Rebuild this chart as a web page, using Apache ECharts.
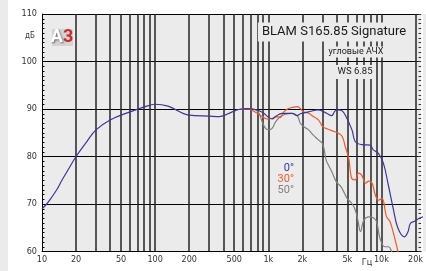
<!DOCTYPE html>
<html><head><meta charset="utf-8">
<script src="https://cdn.jsdelivr.net/npm/echarts@6/dist/echarts.min.js"></script>
<style>html,body{margin:0;padding:0;background:#fff}#c{width:426px;height:271px}</style>
</head><body><div id="c"></div>
<script>
// Grid / label values
const xGridValues = [20,30,40,50,60,70,80,90,100,200,300,400,500,600,700,800,900,1000,2000,3000,4000,5000,6000,7000,8000,9000,10000,20000];
const xLabelValues = [10,20,50,100,200,500,1000,2000,5000,10000,20000];
const yMin = 60, yMax = 110, yStep = 10;

// 0 degrees
const blueF  = [10,11,12,13.5,15,17,20,25,30,40,60,78,100,130,200,300,370,480,550,650,770,900,1000,1080,1160,1320,1620,1800,1920,2270,2770,3280,3630,3900,4200,4450,4800,5490,5880,6700,7940,8470,9370,10400,11500,12700,14000,16000,17200,18000,19800,21600,23600];
const blueDb = [69.0,70.0,71.2,73.0,75.0,77.2,80.0,83.2,85.6,87.7,89.4,90.35,91.0,90.6,88.7,88.5,88.4,89.4,89.9,90.1,89.9,89.2,88.3,87.9,88.4,89.1,89.1,88.6,89.0,89.4,89.8,89.1,88.6,89.6,89.8,89.7,88.7,85.6,83.1,82.5,82.4,81.4,80.7,78.6,74.0,69.1,64.9,63.1,64.2,65.9,66.4,67.0,67.3];
// 30 degrees
const orangeF  = [550,650,798,883,979,1080,1194,1278,1370,1513,1620,1800,1920,2050,2270,2500,2770,3030,3330,3890,4170,4500,4800,5150,5300,5490,5880,6250,6690,7240,7740,8260,8830,9440,10100,11100,11900,13100,14000,15000];
const orangeDb = [89.9,90.1,89.1,88.4,87.9,88.0,88.4,88.2,89.4,90.1,90.3,90.5,90.1,89.4,89.1,88.4,87.7,86.3,85.8,85.2,84.9,84.2,82.0,79.5,77.0,75.3,75.1,76.5,76.1,74.4,74.8,74.4,71.9,70.8,71.2,67.3,66.3,62.8,60.0,57.0];
// 50 degrees
const grayF  = [550,700,773,828,883,946,1010,1080,1160,1280,1420,1620,1800,1920,2050,2270,2500,2770,3030,3240,3430,3640,4010,4400,4970,5480,5880,6200,6530,6990,7730,8470,9060,9700,10700,11500,12300,13000];
const grayDb = [89.9,90.0,89.8,89.1,87.3,85.9,85.6,85.9,87.3,88.4,88.9,89.1,88.6,87.0,86.3,85.6,84.5,83.5,82.6,79.3,78.0,76.8,74.6,73.6,71.2,70.1,68.7,66.5,64.2,66.6,67.3,67.1,66.3,62.8,61.0,61.0,60.0,58.0];

const legendLabels = ['0°','30°','50°'];
const colors = ['#3a3796','#f05a28','#808080'];

const zip = (a,b) => a.map((v,i)=>[v,b[i]]);
const fmtHz = v => v >= 1000 ? (v/1000)+'k' : String(v);
const numFont = "'Liberation Sans Narrow','DejaVu Sans Condensed',sans-serif";
const BG = '#ebebeb';

const chart = echarts.init(document.getElementById('c'), null, {renderer:'canvas'});
chart.setOption({
  animation:false,
  backgroundColor:'#fff',
  grid:{left:42, top:14, right:3, bottom:19.5, show:true, backgroundColor:BG, borderWidth:0},
  xAxis:{
    type:'log', logBase:10, min:10, max:22400,
    axisLine:{show:true, onZero:false, lineStyle:{color:'#000', width:1}},
    axisTick:{show:false, customValues:xGridValues},
    axisLabel:{customValues:xLabelValues, formatter:fmtHz, fontSize:9, color:'#333', margin:4, fontFamily:numFont},
    splitLine:{show:true, lineStyle:{color:'#252525', width:1.5}},
    minorTick:{show:false}, minorSplitLine:{show:false}
  },
  yAxis:[{
    type:'value', min:yMin, max:yMax, interval:yStep,
    axisLine:{show:true, lineStyle:{color:'#000', width:1}},
    axisTick:{show:true, inside:true, length:3, lineStyle:{color:'#000'}},
    minorTick:{show:true, splitNumber:10, length:2.5, lineStyle:{color:'#000'}},
    axisLabel:{fontSize:9, color:'#333', margin:5, fontFamily:numFont},
    splitLine:{show:true, lineStyle:{color:'#000', width:1}}
  },{
    type:'value', position:'right', min:yMin, max:yMax, interval:yStep,
    axisLine:{show:false},
    axisTick:{show:true, inside:true, length:3, lineStyle:{color:'#333'}},
    minorTick:{show:true, splitNumber:10, length:2.5, lineStyle:{color:'#333'}},
    axisLabel:{show:false}, splitLine:{show:false}
  }],
  series:[
    {type:'line', data:zip(grayF,grayDb), showSymbol:false, smooth:0.4, clip:true, lineStyle:{color:colors[2], width:1.2}, z:3},
    {type:'line', data:zip(orangeF,orangeDb), showSymbol:false, smooth:0.4, clip:true, lineStyle:{color:colors[1], width:1.2}, z:4},
    {type:'line', data:zip(blueF,blueDb), showSymbol:false, smooth:0.4, clip:true, lineStyle:{color:colors[0], width:1.2}, z:5}
  ],
  graphic:[
    {type:'rect', left:0, top:0, shape:{width:8, height:271}, style:{fill:BG}, silent:true},
    {type:'rect', left:423, top:14, shape:{width:3, height:237.5}, style:{fill:BG}, silent:true},
    {type:'text', x:35, y:36, style:{text:'дБ', fontSize:8, fill:'#333', align:'right', verticalAlign:'middle', fontFamily:numFont}, z:10},
    {type:'text', x:367, y:263, style:{text:'Гц', fontSize:9, fill:'#333', align:'center', verticalAlign:'middle', fontFamily:numFont}, z:10},
    {type:'text', x:334, y:32, style:{text:'BLAM S165.85 Signature', fontSize:13, fill:'#1a1a1a', align:'center', verticalAlign:'middle', fontFamily:'Roboto', backgroundColor:BG, padding:[3,4]}, z:10},
    {type:'text', x:356, y:52, style:{text:'угловые АЧХ', fontSize:9, fill:'#1a1a1a', align:'center', verticalAlign:'middle', fontFamily:'Roboto', backgroundColor:BG, padding:[1,2]}, z:10},
    {type:'text', x:355, y:72, style:{text:'WS 6.85', fontSize:9.5, fill:'#1a1a1a', align:'center', verticalAlign:'middle', fontFamily:'Roboto', backgroundColor:BG, padding:[2,2]}, z:10},
    {type:'rect', left:52, top:29, shape:{width:21, height:17}, style:{fill:'#d4d4d4'}, z:10},
    {type:'text', x:62, y:37, style:{text:'{a|А}{b|3}', align:'center', verticalAlign:'middle', rich:{
      a:{fontSize:18, fontWeight:'bold', fill:'#fff', fontFamily:'Roboto', textShadowColor:'rgba(0,0,0,0.5)', textShadowBlur:2, textShadowOffsetX:1, textShadowOffsetY:1},
      b:{fontSize:18, fontWeight:'bold', fill:'#d7262e', fontFamily:'Roboto'}}}, z:11},
    {type:'text', x:294, y:168, style:{text:legendLabels[0], fontSize:11, fill:colors[0], align:'right', verticalAlign:'middle', fontFamily:'Roboto'}, z:10},
    {type:'text', x:294, y:179, style:{text:legendLabels[1], fontSize:11, fill:colors[1], align:'right', verticalAlign:'middle', fontFamily:'Roboto'}, z:10},
    {type:'text', x:294, y:190, style:{text:legendLabels[2], fontSize:11, fill:colors[2], align:'right', verticalAlign:'middle', fontFamily:'Roboto'}, z:10}
  ]
});
</script></body></html>
